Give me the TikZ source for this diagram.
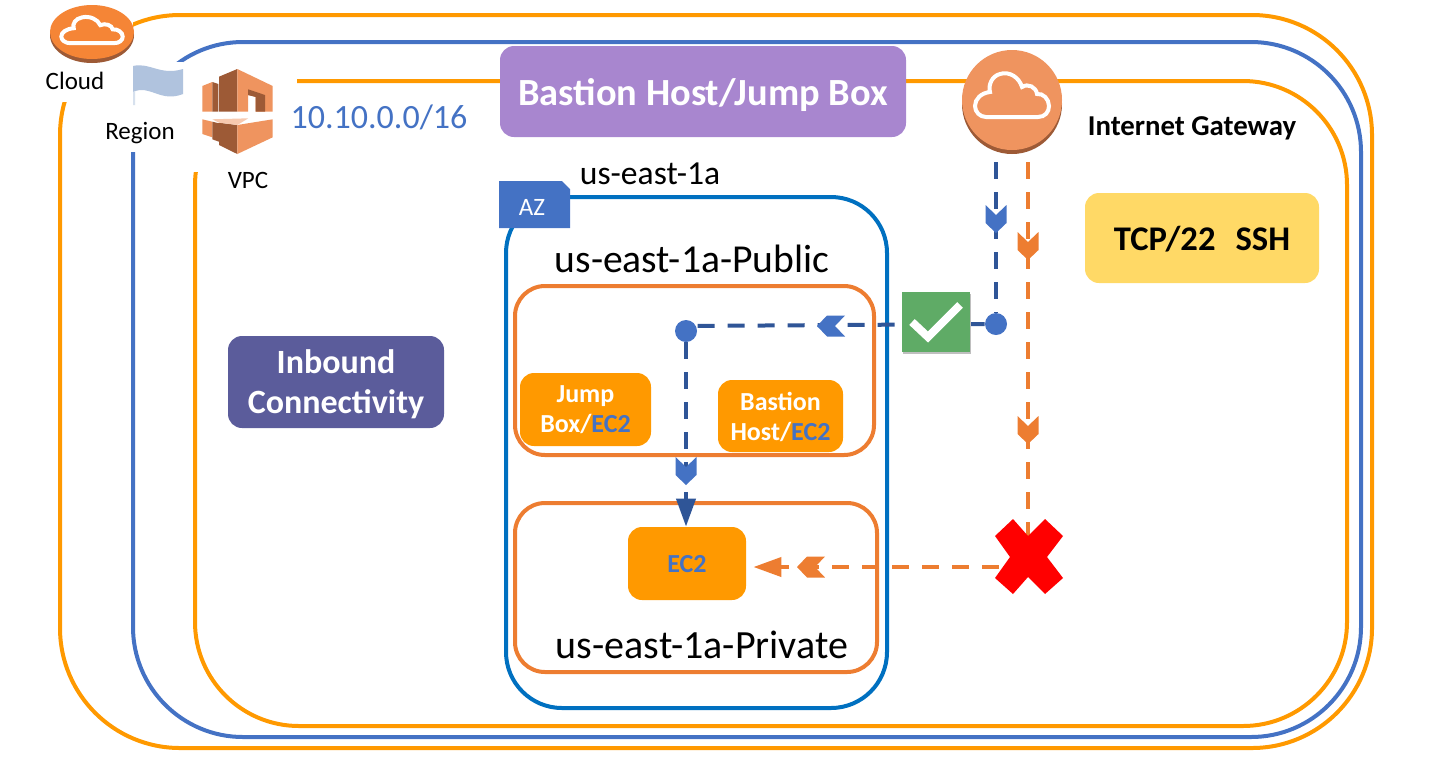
\documentclass[tikz,border=0pt]{standalone}
\usepackage{fontspec}
\setmainfont{Carlito}
\usetikzlibrary{arrows.meta,shapes.geometric}
\definecolor{awsorange}{HTML}{FF9900}
\definecolor{subnetorange}{HTML}{ED7D31}
\definecolor{regionblue}{HTML}{4472C4}
\definecolor{azblue}{HTML}{0070C0}
\definecolor{darkblue}{HTML}{2F5597}
\definecolor{iconlight}{HTML}{EF945F}
\definecolor{icondark}{HTML}{9D5A36}
\definecolor{cloudfill}{HTML}{F58536}
\definecolor{flagblue}{HTML}{B0C3DE}
\definecolor{titlepurple}{HTML}{A886CF}
\definecolor{inboundblue}{HTML}{5B5C9B}
\definecolor{sshyellow}{HTML}{FFD966}
\definecolor{allowgreen}{HTML}{5FAB66}
\tikzset{
  pics/cloudglyph/.style={code={
    \draw[white,line width=2pt,pic actions] (-26,22) -- (26,22) .. controls (33,22) and (37,17) .. (37,11)
      .. controls (37,4) and (31,-2) .. (25,-1) .. controls (24,-8) and (16,-12) .. (10,-8)
      .. controls (7,-18) and (-3,-24) .. (-12,-21) .. controls (-20,-19) and (-24,-10) .. (-22,-3)
      .. controls (-31,-2) and (-37,4) .. (-37,11) .. controls (-37,17) and (-32,22) .. (-26,22) -- cycle;
  }},
  pics/chevron/.style={code={
    \fill[pic actions] (-10.5,-14) -- (0,-4) -- (10.5,-14) -- (10.5,4) -- (0,14) -- (-10.5,4) -- cycle;
  }}
}
\begin{document}
\begin{tikzpicture}[
                    x=0.5pt,y=-0.5pt,
                    >={Triangle[length=14pt,width=9.5pt]},
                    frame/.style={draw,line width=2pt,inner sep=0pt},
                    caption/.style={inner sep=0pt,font=\fontsize{12.5pt}{15pt}\selectfont},
                    banner/.style={rounded corners=7pt,inner sep=0pt,align=center,text depth=0pt,font=\bfseries\fontsize{19.2pt}{21pt}\selectfont},
                    instance/.style={fill=awsorange,rounded corners=7pt,inner sep=0pt,align=center,text depth=0pt,text=white,font=\bfseries\fontsize{13pt}{15pt}\selectfont},
                    bluedash/.style={draw=darkblue,line width=2pt,dash pattern=on 8.5pt off 6.5pt},
                    orangedash/.style={draw=subnetorange,line width=2pt,dash pattern=on 8.5pt off 6.5pt},
                    dot/.style={circle,fill=regionblue,minimum size=11pt,inner sep=0pt}
                    ]

    \useasboundingbox (0,0) rectangle (1439,767);

    \node [frame,draw=awsorange,rounded corners=60pt,minimum width=656pt,minimum height=366.5pt] (cloudframe) at (716,381.5) {};
    \node [frame,draw=regionblue,rounded corners=55pt,minimum width=614pt,minimum height=347.5pt] (regionframe) at (747,389.5) {};
    \node [frame,draw=awsorange,rounded corners=52pt,minimum width=576pt,minimum height=322.5pt] (vpcframe) at (771,403.5) {};

    \fill[white] (45,0) rectangle (133,102);
    \fill[white] (125,62) rectangle (183,152);
    \fill[white] (183,64) rectangle (297,172);

    % cloud icon
    \fill[icondark] (92,35) ellipse [x radius=42,y radius=28];
    \node [ellipse,fill=cloudfill,minimum width=42pt,minimum height=27pt,inner sep=0pt] (cloudicon) at (92,32) {};
    \pic[xscale=0.83,yscale=0.6,line width=1.6pt] at (92,30) {cloudglyph};
    \node [caption] (cloudlabel) at (75,81) {Cloud};

    % region flag
    \fill[flagblue] (133,66) .. controls (150,62) and (160,76) .. (183,69) -- (183,94)
      .. controls (160,103) and (150,84) .. (133,92) -- cycle;
    \fill[flagblue!50] (133,92) -- (135,91) -- (135,105) -- (133,105) -- cycle;
    \node [caption] (regionlabel) at (140,133) {Region};

    % vpc icon
    \fill[icondark] (219,76.7) -- (237.3,69) -- (237.3,111.7) -- (219,111.7) -- cycle;
    \fill[iconlight] (237.3,69) -- (272.7,86) -- (272.7,111.7) -- (255.7,111.7) -- (255.7,96.7) -- (248,95) -- (248,111.7) -- (237.3,111.7) -- cycle;
    \fill[icondark] (248,89.3) -- (265,95) -- (265,111.7) -- (255.7,111.7) -- (255.7,97) -- (248,95) -- cycle;
    \fill[iconlight] (202.3,86) -- (212.3,82) -- (212.3,111.7) -- (202.3,111.7) -- cycle;
    \fill[icondark] (212.3,82) -- (218.3,84) -- (218.3,111.7) -- (212.3,111.7) -- cycle;
    \fill[iconlight] (202.3,119.3) -- (212.3,121.7) -- (212.3,137.3) -- (202.3,134) -- cycle;
    \fill[icondark] (212.3,121.7) -- (219,123.3) -- (219,141.7) -- (212.3,139.3) -- cycle;
    \fill[icondark] (219,122.7) -- (237.3,125) -- (237.3,154) -- (219,145) -- cycle;
    \fill[iconlight] (237.3,125) -- (272.7,119.3) -- (272.7,137.3) -- (237.3,154) -- cycle;
    \fill[iconlight!50] (212.3,119.3) -- (248.3,118.3) -- (237.3,125) -- (219,122.7) -- cycle;
    \node [caption] (vpclabel) at (248,180) {VPC};
    \node [inner sep=0pt,text=regionblue,font=\fontsize{17pt}{20pt}\selectfont] (cidr) at (379,117) {10.10.0.0/16};

    \node [banner,fill=titlepurple,text=white,minimum width=203pt,minimum height=45.5pt] (title) at (703,91.5) {Bastion Host/Jump Box};
    \node [banner,fill=inboundblue,text=white,font=\bfseries\fontsize{17pt}{20pt}\selectfont,minimum width=108pt,minimum height=46pt] (inbound) at (336,382) {Inbound\\Connectivity};
    \node [banner,fill=sshyellow,text=black,font=\bfseries\fontsize{17.3pt}{20pt}\selectfont,minimum width=117pt,minimum height=45pt] (ssh) at (1202,238) {TCP/22\hspace{10pt}SSH};

    % internet gateway
    \fill[icondark] (1012,104) circle [radius=50];
    \node [circle,fill=iconlight,minimum size=50pt,inner sep=0pt] (igw) at (1012,100) {};
    \pic at (1012,95) {cloudglyph};
    \node [caption,font=\bfseries\fontsize{14.4pt}{17pt}\selectfont] (igwlabel) at (1192,128) {Internet Gateway};

    % availability zone
    \node [frame,draw=azblue,rounded corners=28pt,minimum width=190.5pt,minimum height=255.5pt] (azframe) at (696.5,452.5) {};
    \fill[regionblue] (499,181) -- (562,181) -- (570,189) -- (570,228) -- (499,228) -- cycle;
    \node [inner sep=0pt,text=white,font=\fontsize{12.5pt}{14pt}\selectfont] (azlabel) at (532,207) {AZ};
    \node [inner sep=0pt,font=\fontsize{16.8pt}{19pt}\selectfont] (azname) at (650,174) {us-east-1a};
    \node [inner sep=0pt,font=\fontsize{19.8pt}{23pt}\selectfont] (publiclabel) at (692,259) {us-east-1a-Public};
    \node [frame,draw=subnetorange,rounded corners=15pt,minimum width=179.5pt,minimum height=84.5pt] (publicnet) at (694.5,370.5) {};
    \node [frame,draw=subnetorange,rounded corners=15pt,minimum width=181pt,minimum height=84.5pt] (privatenet) at (696,587.5) {};
    \node [inner sep=0pt,font=\fontsize{20pt}{23pt}\selectfont] (privatelabel) at (702,645) {us-east-1a-Private};

    \node [instance,minimum width=65.5pt,minimum height=36.5pt] (jumpbox) at (585.5,409.5) {Jump\\Box/\textcolor{regionblue}{EC2}};
    \node [instance,minimum width=62.5pt,minimum height=36pt] (bastion) at (780.5,416) {Bastion\\Host/\textcolor{regionblue}{EC2}};
    \node [instance,text=regionblue,minimum width=59pt,minimum height=36.5pt] (ectwo) at (687,563.5) {EC2};

    % traffic paths
    \coordinate (igwblue) at (996,162);
    \coordinate (igworange) at (1028,162);
    \coordinate (hubline) at (686,326);
    \coordinate (denyjoint) at (1029,567);
    \node [dot] (gwdot) at (996,324) {};
    \node [dot] (hubdot) at (686,331) {};
    \draw[bluedash] (igwblue) -- (gwdot);
    \draw[bluedash] (gwdot) -- (hubline);
    \draw[bluedash,->] (hubdot) -- (hubdot |- ectwo.north);
    \draw[orangedash] (igworange) -- (igworange |- denyjoint);
    \draw[orangedash,->,shorten >=3.5pt] (denyjoint) -- (ectwo.east |- denyjoint);
    \pic[fill=regionblue] at (996,219) {chevron};
    \pic[fill=subnetorange] at (1028,246) {chevron};
    \pic[fill=subnetorange] at (1028,430) {chevron};
    \pic[fill=regionblue] at (686,471) {chevron};
    \pic[fill=regionblue,rotate=-90] at (831,326) {chevron};
    \pic[fill=subnetorange,rotate=-90] at (811,567) {chevron};

    \fill[red] (1013,519) -- (1028,536) -- (1045,519) -- (1063,536) -- (1047,557) -- (1063,578) -- (1045,594) -- (1028,577) -- (1013,594) -- (995,578) -- (1010,557) -- (995,536) -- cycle;

    \fill[black!25] (903,294) rectangle (971,354);
    \node [fill=allowgreen,minimum width=34pt,minimum height=30pt,inner sep=0pt] (allowed) at (936,322) {};
    \draw[white,line width=4pt] (912,322) -- (928,337) -- (960,305);

\end{tikzpicture}
\end{document}
